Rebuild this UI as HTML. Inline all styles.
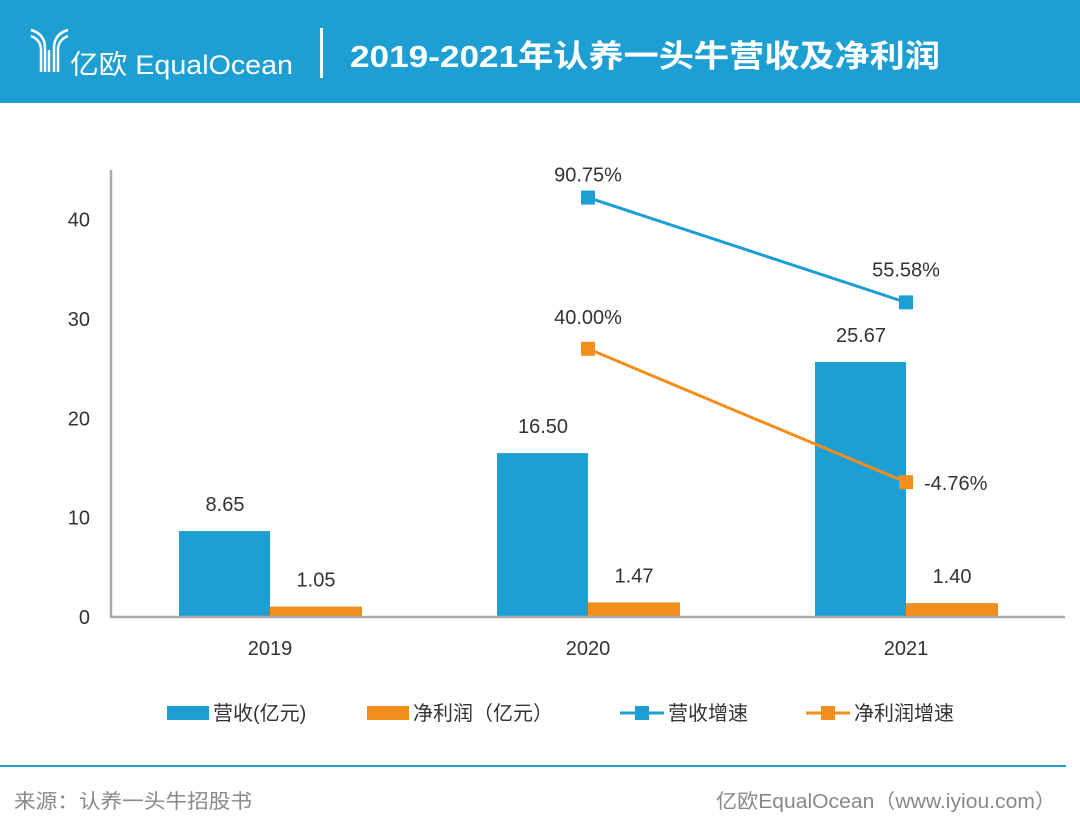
<!DOCTYPE html>
<html><head><meta charset="utf-8">
<style>
body{margin:0;width:1080px;height:836px;background:#fff;overflow:hidden;font-family:"Liberation Sans","Noto Sans CJK SC",sans-serif;}
#hdr{position:absolute;left:0;top:0;width:1080px;height:103px;background:#1e9fd3;}
svg{position:absolute;left:0;top:0;}
</style></head><body>
<div id="hdr"></div>
<svg id="c" width="1080" height="836">
 <g fill="none" stroke="#fff" stroke-width="2.5">
  <path d="M31 30 q14 4 14 18 v24"/><path d="M31 36 q10 4 10 14 v22"/><path d="M68 30 q-14 4 -14 18 v24"/><path d="M68 36 q-10 4 -10 14 v22"/><path d="M49 50 v22"/>
 </g>
 <text x="70" y="74" fill="#fff" font-size="27" textLength="223" lengthAdjust="spacingAndGlyphs">亿欧 EqualOcean</text>
 <rect x="320" y="28" width="3" height="50" fill="#fff"/>
 <text x="350" y="67" fill="#fff" font-size="31" font-weight="bold" textLength="590" lengthAdjust="spacingAndGlyphs">2019-2021年认养一头牛营收及净利润</text>
 <g id="plot"></g>
 <g font-size="20" fill="#333">
  <g><rect x="167" y="706" width="42" height="14" fill="#1e9fd3"/><text x="213" y="720">营收(亿元)</text></g>
  <g><rect x="367" y="706" width="42" height="14" fill="#f28e1e"/><text x="413" y="720">净利润（亿元）</text></g>
  <g><line x1="620" y1="713" x2="664" y2="713" stroke="#1e9fd3" stroke-width="3"/><rect x="635" y="706" width="14" height="14" fill="#1e9fd3"/><text x="668" y="720">营收增速</text></g>
  <g><line x1="806" y1="713" x2="850" y2="713" stroke="#f28e1e" stroke-width="3"/><rect x="821" y="706" width="14" height="14" fill="#f28e1e"/><text x="854" y="720">净利润增速</text></g>
 </g>
 <rect x="0" y="765" width="1066" height="2" fill="#1e9fd3"/>
 <text x="14" y="808" font-size="20" fill="#888" textLength="238" lengthAdjust="spacingAndGlyphs">来源：认养一头牛招股书</text>
 <text x="716" y="808" font-size="20" fill="#888" textLength="340" lengthAdjust="spacingAndGlyphs">亿欧EqualOcean（www.iyiou.com）</text>
</svg>
<script>
const categories=["2019","2020","2021"];
const revenue=[8.65,16.50,25.67];
const profit=[1.05,1.47,1.40];
const revGrowth=[null,90.75,55.58];
const profitGrowth=[null,40.00,-4.76];
const yTicks=[0,10,20,30,40];
const NS="http://www.w3.org/2000/svg";
const g=document.getElementById('plot');
const X0=111,X1=1065,Y0=617,Y1=170;
const bw=(X1-X0)/categories.length;
const y=v=>Y0-(v/45)*(Y0-Y1);
const y2=v=>Y0-((v+50)/150)*(Y0-Y1);
const cx=i=>X0+bw*(i+0.5);
function el(t,a,p){const e=document.createElementNS(NS,t);for(const k in a)e.setAttribute(k,a[k]);(p||g).appendChild(e);return e;}
function txt(x,yy,s,anchor){const e=el('text',{x:x,y:yy,'font-size':20,fill:'#333','text-anchor':anchor||'middle'});e.textContent=s;return e;}
yTicks.forEach(t=>{const e=txt(90,y(t)+7,String(t),'end');

});
categories.forEach((c,i)=>{
 const b=el('rect',{x:cx(i)-91,y:y(revenue[i]),width:91,height:Y0-y(revenue[i]),fill:'#1e9fd3'});
 
 
 const o=el('rect',{x:cx(i),y:y(profit[i]),width:92,height:Y0-y(profit[i]),fill:'#f28e1e'});
 
 
 const l1=txt(cx(i)-45,y(revenue[i])-20,revenue[i].toFixed(2));
 
 
 const l2=txt(cx(i)+46,y(profit[i])-20,profit[i].toFixed(2));
 
 
 const xl=txt(cx(i),655,c);
 
 
});
const ax=el('polyline',{points:`${X0},${Y1} ${X0},${Y0} ${X1},${Y0}`,fill:'none',stroke:'#aaa','stroke-width':2.5});


function series(vals,color,name,offs){
 const pts=[];vals.forEach((v,i)=>{if(v!==null)pts.push([cx(i),y2(v),v]);});
 const pl=el('polyline',{points:pts.map(p=>p[0]+','+p[1]).join(' '),fill:'none',stroke:color,'stroke-width':3});
 
 
 pts.forEach((p,k)=>{
  const m=el('rect',{x:p[0]-7,y:p[1]-7,width:14,height:14,fill:color});
  
  
  const o=offs[k];
  const t=txt(p[0]+o[0],p[1]+o[1],p[2].toFixed(2)+'%',o[2]);
  
  
 });
}
series(revGrowth,'#1e9fd3','revenue-growth',[[0,-16,'middle'],[0,-26,'middle']]);
series(profitGrowth,'#f28e1e','profit-growth',[[0,-25,'middle'],[18,8,'start']]);
</script>
</body></html>
